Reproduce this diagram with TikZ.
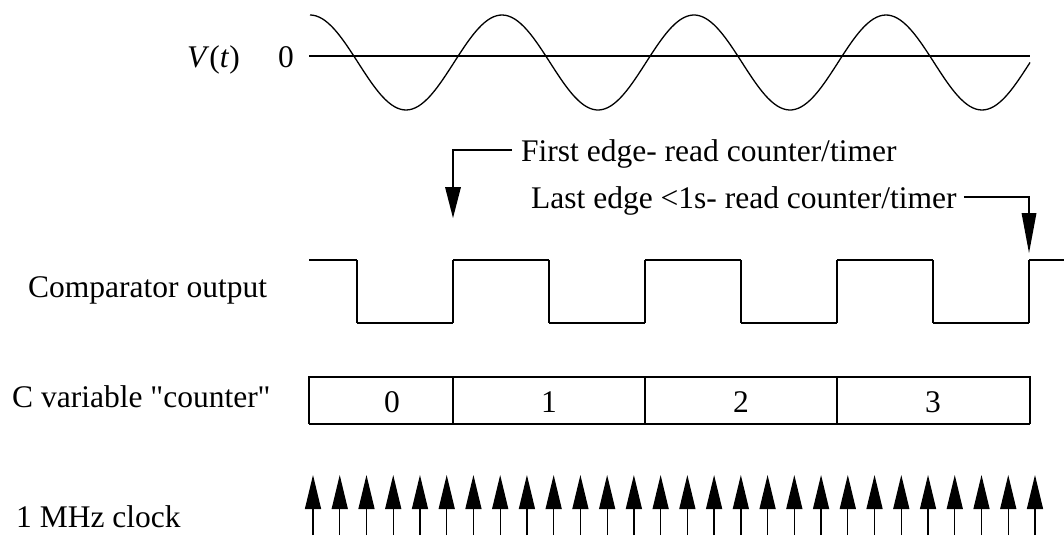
\documentclass[tikz,border=0pt]{standalone}
\usepackage{fontspec}
\setmainfont{Liberation Serif}
\usetikzlibrary{arrows.meta}
\begin{document}
\begin{tikzpicture}[x=1pt,y=-1pt,
  lbl/.style={font=\fontsize{31.5}{36}\selectfont, inner sep=0pt},
  thin/.style={line width=1.3pt},
  level/.style={line width=2.2pt},
  edge/.style={line width=1.4pt},
  clk/.style={line width=1.3pt, -{Triangle[width=16pt,length=34pt]}},
  note/.style={line width=1.3pt},
]
\useasboundingbox (0,0) rectangle (1064,535);

% ---- V(t) trace ----
\node[lbl, anchor=base west] (vt) at (187,67) {\textit{V}(\textit{t})};
\node[lbl, anchor=base west] (zero) at (278,67) {0};
\draw[thin] (309,56) -- (1030,56);
% phase step: 360 degrees per 192 units
\draw[thin] plot[domain=0:720, samples=240, smooth]
  ({310+\x}, {62.5 - 47.5*cos(1.875*\x)});

% ---- annotations ----
\node[lbl, anchor=base west] (first) at (521,161) {First edge- read counter/timer};
\node[lbl, anchor=base west] (last) at (531,208) {Last edge <1s- read counter/timer};
\coordinate (tipA) at (453,218);
\coordinate (tipB) at (1029,253);
\coordinate (bendA) at (453,150);
\coordinate (bendB) at (1029,197);
\draw[note] ([xshift=-9pt]first.west |- bendA) -- (bendA) -- ([yshift=31pt]tipA);
\fill (tipA) -- ++(-8,-31) -- ++(16,0) -- cycle;
\draw[note] ([xshift=7pt]last.east |- bendB) -- (bendB) -- ([yshift=40pt]tipB);
\fill (tipB) -- ++(-7.5,-40) -- ++(15,0) -- cycle;

% ---- comparator output ----
\node[lbl, anchor=base west] (cmp) at (28,297) {Comparator output};
\foreach \a/\b in {309/357, 453/549, 645/741, 837/933, 1029/1064}
  \draw[level] (\a,260) -- (\b,260);
\foreach \a/\b in {357/453, 549/645, 741/837, 933/1029}
  \draw[level] (\a,323) -- (\b,323);
\foreach \e in {357,453,549,645,741,837,933,1029}
  \draw[edge] (\e,260) -- (\e,323);

% ---- counter variable ----
\node[lbl, anchor=base west] (cvar) at (12,407) {C variable \textquotedbl counter\textquotedbl};
\draw[thin] (1030,424) -- (1030,377) -- (309,377) -- (309,424);
\draw[level] (309,424) -- (1030,424);
\foreach \d in {453,645,837}
  \draw[thin] (\d,377) -- (\d,424);
\node[lbl, anchor=base] (n0) at (392,412) {0};
\node[lbl, anchor=base] (n1) at (549,412) {1};
\node[lbl, anchor=base] (n2) at (741,412) {2};
\node[lbl, anchor=base] (n3) at (933,412) {3};

% ---- clock ----
\node[lbl, anchor=base west] (clock) at (16,527) {1 MHz clock};
\foreach \i in {0,...,27}
  \draw[clk] ({313+26.74*\i},535) -- ({313+26.74*\i},475);

\end{tikzpicture}
\end{document}
